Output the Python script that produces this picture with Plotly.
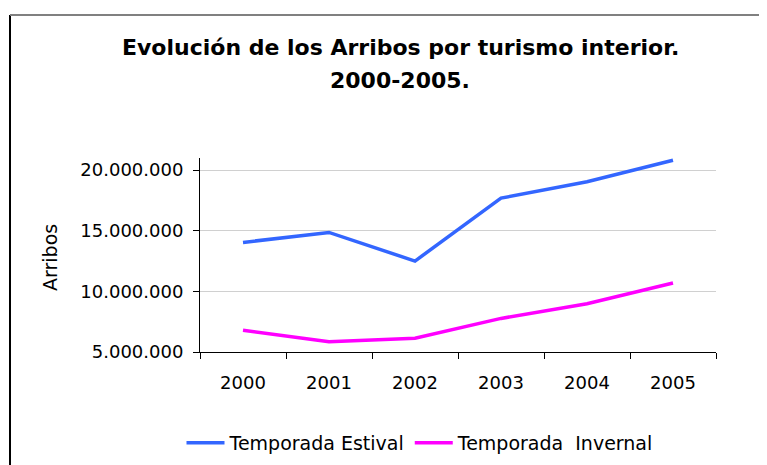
import plotly.graph_objects as go

years = ["2000", "2001", "2002", "2003", "2004", "2005"]
estival = [14040000, 14860000, 12500000, 17690000, 19040000, 20820000]
invernal = [6790000, 5850000, 6130000, 7770000, 8980000, 10690000]
y_ticks = [5000000, 10000000, 15000000, 20000000]
title_lines = ["Evolución de los Arribos por turismo interior.", "2000-2005."]

# page body has an 8px margin; figure is positioned in figure pixels
W, H = 759, 457
L, T, PW, PH = 192, 150, 516, 194
R = W - L - PW
B = H - T - PH

def px(xf):
    return (xf - L) / PW

def py(yf):
    return (T + PH - yf) / PH

fig = go.Figure()
fig.add_trace(go.Scatter(x=years, y=estival, mode="lines", name="Temporada Estival",
                         line=dict(color="#3366FF", width=3.5)))
fig.add_trace(go.Scatter(x=years, y=invernal, mode="lines", name="Temporada  Invernal",
                         line=dict(color="#FF00FF", width=3.5)))

font = "DejaVu Sans, sans-serif"
fig.update_layout(
    width=W, height=H,
    margin=dict(l=L, r=R, t=T, b=B, autoexpand=False),
    paper_bgcolor="white", plot_bgcolor="white",
    separators=",.",
    font=dict(family=font, size=18, color="black"),
    showlegend=True,
    legend=dict(orientation="h", x=px(412), xanchor="center", y=py(435), yanchor="middle",
                font=dict(size=19), itemwidth=38, tracegroupgap=0),
    xaxis=dict(type="category", range=[-0.5, 5.5], showline=True, linecolor="black", linewidth=1,
               ticks="outside", tickson="boundaries", ticklen=6, tickcolor="black",
               showgrid=False, tickfont=dict(size=18), ticklabelstandoff=14, automargin=False),
    yaxis=dict(range=[5000000, 21000000], tickvals=y_ticks, tickformat=",d",
               showline=True, linecolor="black", linewidth=1,
               ticks="outside", ticklen=6, tickcolor="black",
               showgrid=True, gridcolor="#d0d0d0", gridwidth=1,
               zeroline=False, tickfont=dict(size=18), ticklabelstandoff=6, automargin=False),
)
fig.add_annotation(text="<b>" + title_lines[0] + "</b>", xref="paper", yref="paper",
                   x=px(392), y=py(39), xanchor="center", yanchor="middle",
                   showarrow=False, font=dict(size=22, family=font))
fig.add_annotation(text="<b>" + title_lines[1] + "</b>", xref="paper", yref="paper",
                   x=px(392), y=py(72), xanchor="center", yanchor="middle",
                   showarrow=False, font=dict(size=22, family=font))
fig.add_annotation(text="Arribos", xref="paper", yref="paper", textangle=-90,
                   x=px(42), y=py(250), xanchor="center", yanchor="middle",
                   showarrow=False, font=dict(size=19, family=font))
fig.add_shape(type="line", xref="paper", yref="paper", x0=px(2), x1=px(2),
              y0=py(7), y1=py(H + 10), line=dict(color="black", width=2))
fig.add_shape(type="line", xref="paper", yref="paper", x0=px(2), x1=px(W + 10),
              y0=py(7), y1=py(7), line=dict(color="#808080", width=2))

fig.write_html("out.html")
